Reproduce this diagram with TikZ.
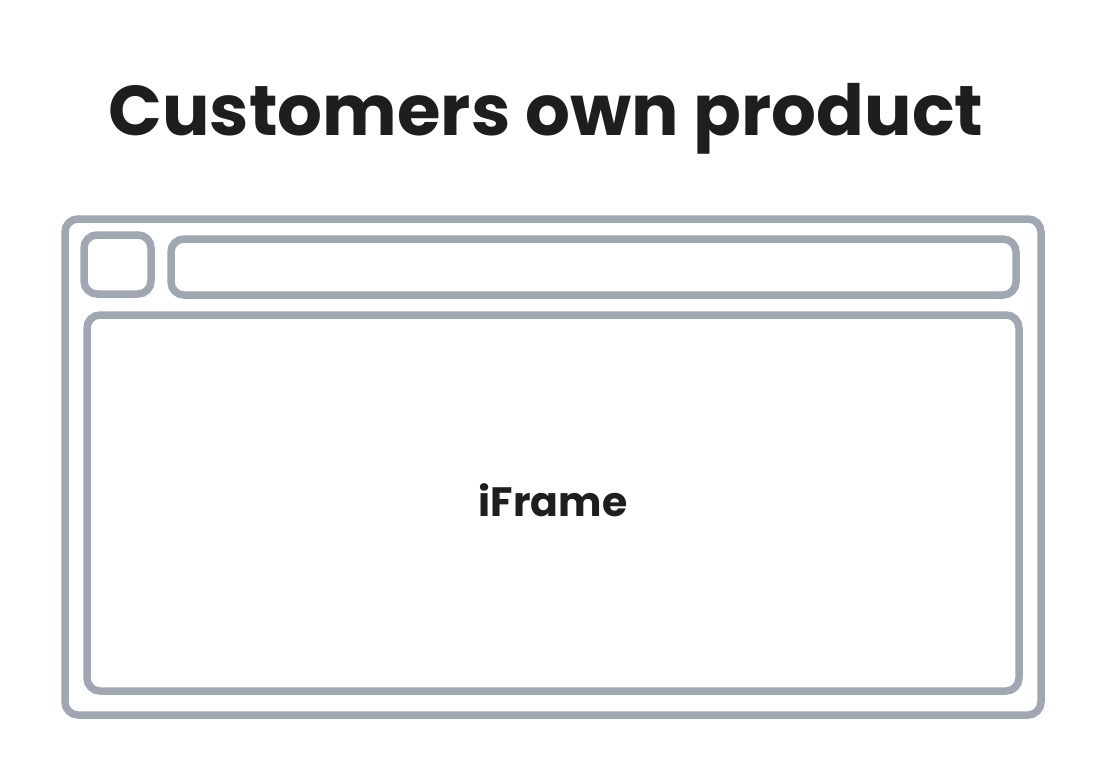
\documentclass[tikz,border=0pt]{standalone}
\usepackage{fontspec}
\setmainfont{Poppins}
\usepackage{tikz}
\definecolor{framegray}{RGB}{160,167,178}
\definecolor{inkblack}{RGB}{30,30,30}
\tikzset{pane/.style={draw=framegray, line width=7.5pt, rounded corners=13pt, inner sep=0pt}}
\tikzset{label/.style={text=inkblack, font=\bfseries, anchor=base, inner sep=0pt}}

\begin{document}
\begin{tikzpicture}[x=1pt,y=-1pt]
		\fill[white] (0,0) rectangle (1105,779);
		\useasboundingbox (0,0) rectangle (1105,779);

		\node[label, font=\bfseries\fontsize{70.5}{84}\selectfont] (title) at (546,135) {Customers own product};

		\begin{scope}[every node/.append style={pane}]
			\node[minimum width=976pt, minimum height=496pt] (window) at (553,467) {};
			\node[minimum width=67pt, minimum height=59pt] (button) at (117.5,264.5) {};
			\node[minimum width=845pt, minimum height=56pt] (addressbar) at (593.5,267) {};
			\node[minimum width=932pt, minimum height=376pt] (content) at (553,503) {};
		\end{scope}

		\node[label, font=\bfseries\fontsize{41}{48}\selectfont] (iframe) at (553,516) {iFrame};
	\end{tikzpicture}
\end{document}
